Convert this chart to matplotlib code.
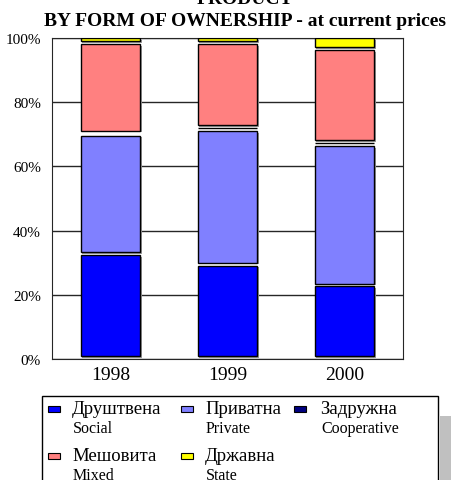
import numpy as np
import matplotlib
matplotlib.use("Agg")
import matplotlib.pyplot as plt
import matplotlib.patheffects as pe
from matplotlib.patches import Rectangle

W, H = 451, 481

years = ["1998", "1999", "2000"]
social = [32.4, 29.1, 22.6]
private = [37.2, 41.9, 43.7]
coop = [0.6, 1.0, 1.0]
mixed = [27.9, 26.1, 28.9]
state = [1.9, 1.9, 3.8]

series = [social, private, coop, mixed, state]
colors = ["#0000ff", "#8080ff", "#000080", "#ff8080", "#ffff00"]
names_sr = ["Друштвена", "Приватна", "Задружна", "Мешовита", "Државна"]
names_en = ["Social", "Private", "Cooperative", "Mixed", "State"]
yticks = [0, 20, 40, 60, 80, 100]

GAP = 0.9  # white gap under each segment
SERIF = ["Liberation Serif", "DejaVu Serif"]
plt.rcParams['font.family'] = SERIF


def px(x, y):
    return x / W, 1 - y / H


fig = plt.figure(figsize=(W / 100, H / 100), dpi=100)
ax = fig.add_axes([52 / W, 1 - 360 / H, 351 / W, 321 / H])

shadow = [pe.SimplePatchShadow(offset=(1.2, -1.2), shadow_rgbFace="0.6", alpha=1), pe.Normal()]
x = np.arange(len(years))
bottom = np.zeros(len(years))
for vals, col in zip(series, colors):
    vals = np.array(vals)
    for i in range(len(years)):
        h = vals[i] - GAP
        if h >= 0:
            ax.bar(x[i], h, 0.51, bottom=bottom[i] + GAP, color=col,
                   edgecolor="black", linewidth=1, zorder=3, path_effects=shadow)
    bottom += vals

ax.set_xlim(-0.5, 2.5)
ax.set_ylim(0, 100)
ax.set_yticks(yticks)
ax.set_yticklabels([f"{t}%" for t in yticks], fontsize=11)
ax.set_xticks(x)
ax.set_xticklabels(years, fontsize=14)
ax.tick_params(length=0)
ax.tick_params(axis="y", pad=8)
ax.tick_params(axis="x", pad=5)
ax.grid(axis="y", color="0.15", linewidth=1)
ax.set_axisbelow(True)
for s in ax.spines.values():
    s.set_color("0.15")

fig.text(*px(245, -1), "PRODUCT", fontsize=14, fontweight="bold", ha="center", va="center")
fig.text(*px(245, 22), "BY FORM OF OWNERSHIP - at current prices", fontsize=14,
         fontweight="bold", ha="center", va="center")

# legend box
fig.add_artist(Rectangle(px(440, 490), 20 / W, 73 / H, transform=fig.transFigure,
                         facecolor="#c0c0c0", edgecolor="none"))
fig.add_artist(Rectangle(px(42, 490), 396 / W, 93 / H, transform=fig.transFigure,
                         facecolor="white", edgecolor="black", linewidth=1))

marker_x = [48, 181, 294]
text_x = [72, 205, 320]
row_y = [410, 457]
for k in range(len(names_sr)):
    r, c = divmod(k, 3)
    fig.add_artist(Rectangle(px(marker_x[c], row_y[r] + 3), 12 / W, 6 / H,
                             transform=fig.transFigure, facecolor=colors[k],
                             edgecolor="black", linewidth=0.8))
    fig.text(*px(text_x[c], row_y[r]), names_sr[k], fontsize=13.5, va="center", ha="left")
    fig.text(*px(text_x[c] + 1, row_y[r] + 19), names_en[k], fontsize=11.5, va="center", ha="left")

fig.savefig("out.png", dpi=100)
